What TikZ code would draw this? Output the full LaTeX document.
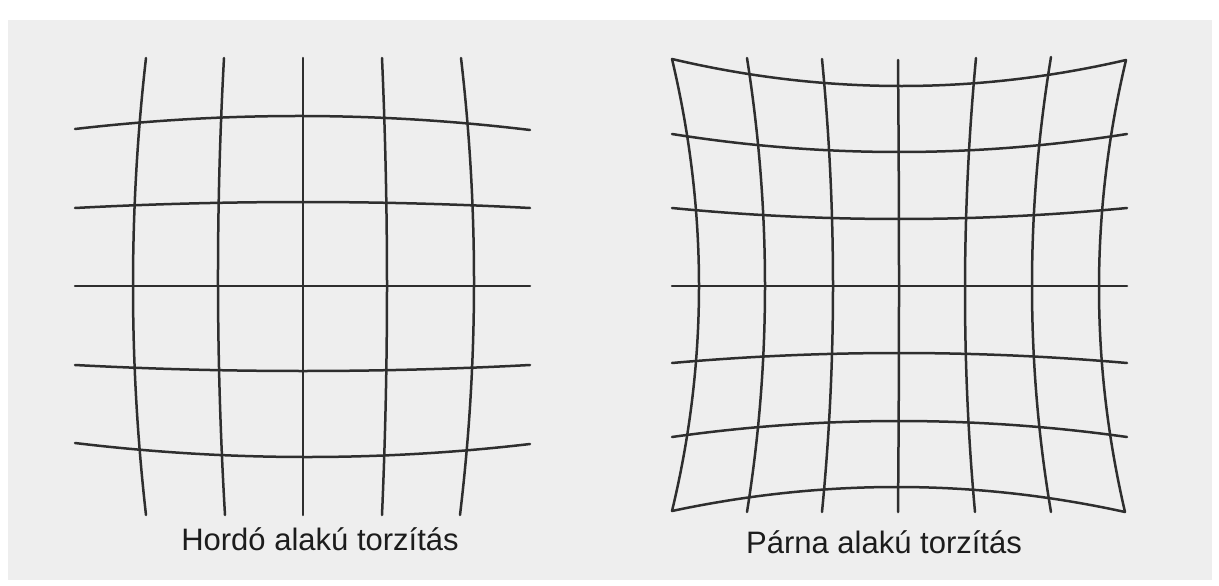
\documentclass[tikz,border=0pt]{standalone}
\usepackage{fontspec}
\setmainfont{Liberation Sans}
\usepackage{tikz}
\usetikzlibrary{calc}
\definecolor{panelgray}{HTML}{EEEEEE}
\definecolor{gridink}{HTML}{2E2E2E}
\definecolor{captionink}{HTML}{1C1C1C}

\tikzset{
    gridline/.style={draw=gridink, line width=2.5pt, line cap=round, line join=round},
    caption/.style={font=\fontsize{31}{36}\selectfont, text=captionink, anchor=base, inner sep=0pt}
}

\begin{document}
\begin{tikzpicture}[x=1pt, y=-1pt]
    % Frame
    \useasboundingbox (0,0) rectangle (1219,586);
    \fill[white] (0,0) rectangle (1219,586);
    \fill[panelgray] (8,20) rectangle (1212,580);

    % Barrel grid (start / middle / end of every line)
    \foreach \xa/\ya/\xm/\ym/\xb/\yb in {
        75/129/303/116/530/130, 75/208/303/202/530/208, 75/286/303/286/530/286,
        75/365/303/371/530/365, 75/443/303/457/530/444,
        146/58/133/286/146/515, 224/58/218/286/225/515, 303/58/303/286/303/515,
        382/58/387/286/382/515, 461/58/474/286/460/515}{
        \pgfmathsetmacro\qx{2*\xm-(\xa+\xb)/2}
        \pgfmathsetmacro\qy{2*\ym-(\ya+\yb)/2}
        \draw[gridline] (\xa,\ya) .. controls ($(\xa,\ya)!2/3!(\qx,\qy)$) and ($(\xb,\yb)!2/3!(\qx,\qy)$) .. (\xb,\yb);
    }

    % Pincushion grid
    \foreach \xa/\ya/\xm/\ym/\xb/\yb in {
        672/59/899/86/1126/60, 672/134/899/152/1127/134, 672/208/899/219/1127/208,
        672/286/899/286/1127/286, 672/363/899/353/1127/363, 672/437/899/421/1127/437,
        672/511/899/487/1125/512,
        672/59/699/286/672/511, 747/58/765/286/747/512, 822/59/833/286/822/512,
        898/60/899/286/898/512, 976/58/965/286/975/512, 1051/57/1032/286/1051/512,
        1126/60/1099/286/1125/512}{
        \pgfmathsetmacro\qx{2*\xm-(\xa+\xb)/2}
        \pgfmathsetmacro\qy{2*\ym-(\ya+\yb)/2}
        \draw[gridline] (\xa,\ya) .. controls ($(\xa,\ya)!2/3!(\qx,\qy)$) and ($(\xb,\yb)!2/3!(\qx,\qy)$) .. (\xb,\yb);
    }

    % Captions
    \node[caption] (barrel) at (320,550) {Hordó alakú torzítás};
    \node[caption] (pincushion) at (884,553) {Párna alakú torzítás};

\end{tikzpicture}
\end{document}
